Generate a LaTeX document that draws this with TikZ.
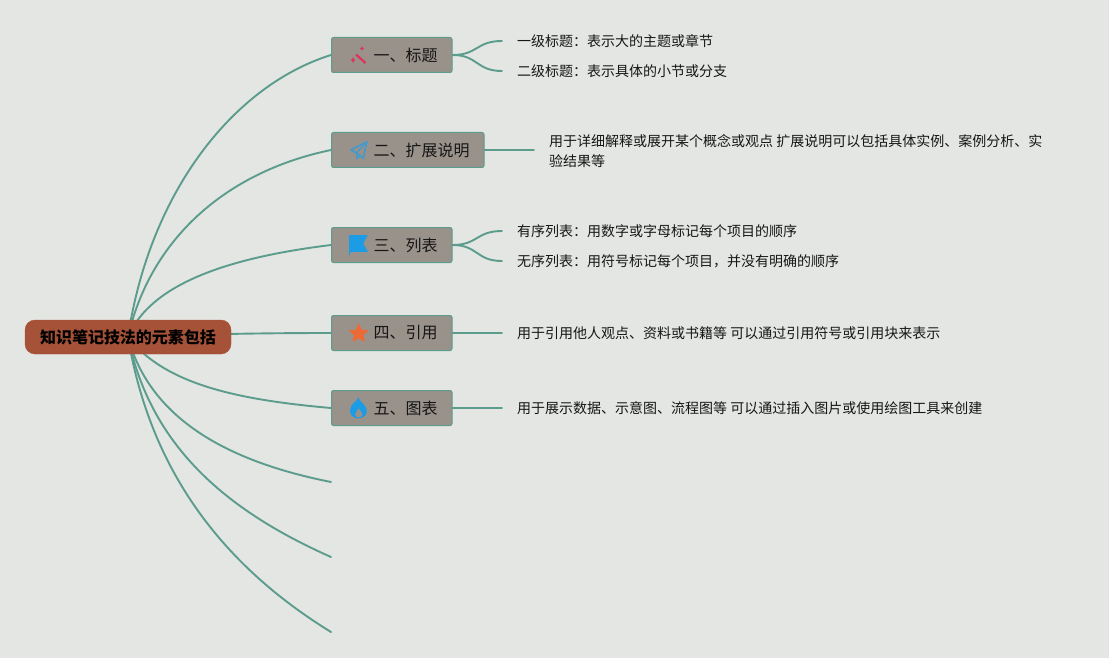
\documentclass[tikz,border=0pt]{standalone}
\usepackage{fontspec}
\setmainfont{Noto Sans CJK SC}
\usetikzlibrary{backgrounds}
\definecolor{pagebg}{HTML}{E3E6E3}
\definecolor{linkc}{HTML}{5C9C8C}
\definecolor{boxfill}{HTML}{99928A}
\definecolor{rootfill}{HTML}{A55238}
\definecolor{inkc}{HTML}{161616}
\definecolor{blueicon}{HTML}{1B9CE5}
\definecolor{planeicon}{HTML}{3E9AD2}
\definecolor{redicon}{HTML}{E0315A}
\definecolor{staricon}{HTML}{EC6A35}
\tikzset{
  x=1pt,y=-1pt,
  rootbox/.style={draw=rootfill,fill=rootfill,rounded corners=10pt,minimum width=206pt,minimum height=34pt,inner sep=0pt,text=black,font=\fontsize{16}{20}\selectfont\bfseries,anchor=center},
  branchbox/.style={draw=linkc,line width=1pt,fill=boxfill,rounded corners=2pt,minimum height=35pt,inner ysep=0pt,inner xsep=0pt,text=inkc,font=\fontsize{16}{20}\selectfont,anchor=west},
  leaf/.style={anchor=west,inner xsep=15pt,inner ysep=0pt,text=inkc,font=\fontsize{14}{20}\selectfont,align=left},
  link/.style={draw=linkc,line width=1.9pt,line cap=round},
}
\newcommand{\boxlabel}[1]{\hspace*{42pt}#1\hspace*{14.5pt}}
\begin{document}
\begin{tikzpicture}
\useasboundingbox (0,0) rectangle (1109,658);
\node[rootbox] (root) at (128,337) {知识笔记技法的元素包括};
\node[branchbox] (b1) at (331,55) {\boxlabel{一、标题}};
\node[branchbox] (b2) at (331,150) {\boxlabel{二、扩展说明}};
\node[branchbox] (b3) at (331,245) {\boxlabel{三、列表}};
\node[branchbox] (b4) at (331,333) {\boxlabel{四、引用}};
\node[branchbox] (b5) at (331,408) {\boxlabel{五、图表}};
\coordinate (e6) at (331,482);
\coordinate (e7) at (331,557);
\coordinate (e8) at (331,632);
\node[leaf] (l1a) at (502,41) {一级标题：表示大的主题或章节};
\node[leaf] (l1b) at (502,71) {二级标题：表示具体的小节或分支};
\node[leaf] (l2) at (534,151) {用于详细解释或展开某个概念或观点 扩展说明可以包括具体实例、案例分析、实\\验结果等};
\node[leaf] (l3a) at (502,231) {有序列表：用数字或字母标记每个项目的顺序};
\node[leaf] (l3b) at (502,261) {无序列表：用符号标记每个项目，并没有明确的顺序};
\node[leaf] (l4) at (502,333) {用于引用他人观点、资料或书籍等 可以通过引用符号或引用块来表示};
\node[leaf] (l5) at (502,408) {用于展示数据、示意图、流程图等 可以通过插入图片或使用绘图工具来创建};
\begin{scope}[on background layer]
\fill[pagebg] (0,0) rectangle (1109,658);
\path[link] (root.center) .. controls (150,190) and (235,85) .. (b1.west);
\path[link] (root.center) .. controls (150,240) and (225,172) .. (b2.west);
\path[link] (root.center) .. controls (150,285) and (225,258) .. (b3.west);
\path[link] (root.center) .. controls (200,334) and (270,333) .. (b4.west);
\path[link] (root.center) .. controls (165,385) and (240,400) .. (b5.west);
\path[link] (root.center) .. controls (150,420) and (230,462) .. (e6);
\path[link] (root.center) .. controls (150,445) and (225,510) .. (e7);
\path[link] (root.center) .. controls (150,470) and (222,565) .. (e8);
\path[link] (b1.east) .. controls (478,55) and (476,41) .. (l1a.west);
\path[link] (b1.east) .. controls (478,55) and (476,71) .. (l1b.west);
\path[link] (b2.east) -- (b2.east -| l2.west);
\path[link] (b3.east) .. controls (478,245) and (476,231) .. (l3a.west);
\path[link] (b3.east) .. controls (478,245) and (476,261) .. (l3b.west);
\path[link] (b4.east) -- (l4.west);
\path[link] (b5.east) -- (l5.west);
\end{scope}
% icons
\draw[redicon,line width=2.2pt] (356,54.5) -- (365.5,63);
\fill[redicon] (350.5,60) -- (352.2,59) -- (353,57) -- (353.8,59) -- (355.5,60) -- (353.8,61) -- (353,63) -- (352.2,61) -- cycle;
\fill[redicon] (360,48.5) -- (361.4,47.6) -- (362,46) -- (362.6,47.6) -- (364,48.5) -- (362.6,49.4) -- (362,51) -- (361.4,49.4) -- cycle;
\fill[redicon!70] (367,54.7) circle (0.9);
\draw[planeicon,line width=1.5pt,line join=round] (366.8,141.8) -- (350.8,150) -- (356.5,153) -- (363.3,158.2) -- cycle;
\draw[planeicon,line width=1.2pt] (366.8,141.8) -- (356.5,153) -- (356.8,158.5) -- (360,156);
\fill[blueicon] (349,235) -- (367.8,235) -- (363.3,243.3) -- (367.8,251.8) -- (350,251.8) -- (350,255) -- (349,255) -- cycle;
\fill[staricon,draw=staricon,line width=0.8pt,line join=round] (358.7,324) -- (361.3,330) -- (367.7,330.6) -- (363,335) -- (364.4,341.2) -- (358.7,338) -- (353,341.2) -- (354.4,335) -- (349.7,330.6) -- (356.1,330) -- cycle;
\fill[blueicon,even odd rule] (358.5,397.3) .. controls (360,402) and (362,402) .. (363.5,404) .. controls (366,406) and (367,409) .. (366.8,411.5) .. controls (366.3,416) and (362.5,418.3) .. (358.5,418.3) .. controls (354,418.3) and (350.3,415.5) .. (350,411) .. controls (349.8,407.5) and (352,405) .. (353.5,403) .. controls (355.5,401) and (358,400) .. (358.5,397.3) -- cycle
 (358.8,408) .. controls (357.5,411) and (355,412) .. (355,414.5) .. controls (355,416.5) and (357,417.5) .. (358.8,417.5) .. controls (360.8,417.5) and (362.5,416.3) .. (362.5,414.5) .. controls (362.5,412) and (360,411) .. (358.8,408) -- cycle;
\end{tikzpicture}
\end{document}
